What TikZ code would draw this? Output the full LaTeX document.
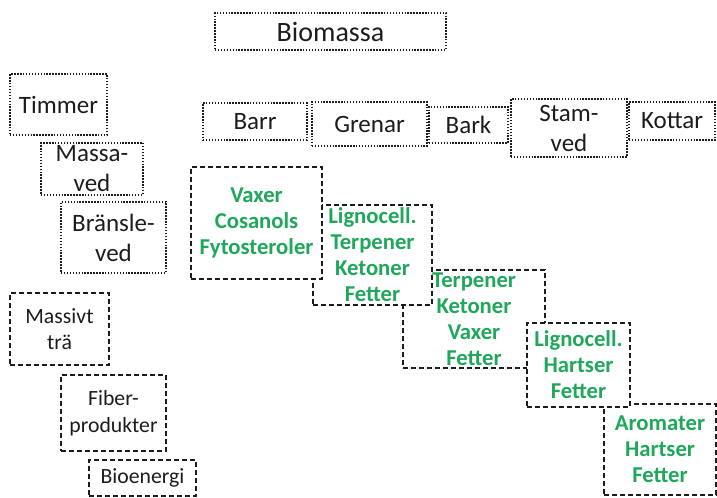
\documentclass[tikz,border=0pt]{standalone}
\usepackage{fontspec}
\setmainfont{Carlito}
\usepackage{tikz}
\usetikzlibrary{positioning}
\definecolor{InkGray}{HTML}{1C1C1C}
\definecolor{LeafGreen}{HTML}{1FA75B}

\tikzset{
  boxsize/.style 2 args={minimum width=#1*0.75pt, minimum height=#2*0.75pt},
  partbox/.style={draw=InkGray, line width=1.1pt, dash pattern=on 1.1pt off 1.1pt,
                  inner sep=0pt, align=center, text=InkGray,
                  font=\fontsize{18.75}{22.5}\selectfont},
  usebox/.style={partbox, dash pattern=on 3.75pt off 2.25pt,
                 font=\fontsize{16.3}{20}\selectfont},
  extractbox/.style={usebox, fill=white, text=LeafGreen,
                     font=\bfseries\fontsize{17}{19.5}\selectfont},
}

\begin{document}
\begin{tikzpicture}[x=0.75pt, y=-0.75pt]
\useasboundingbox (0,0) rectangle (717,497);

% tree and its parts
\node[partbox, boxsize={231}{37}, font=\fontsize{21}{25}\selectfont] (biomassa) at (330.5,31.5) {Biomassa};
\node[partbox, boxsize={104}{37}] (barr) at (255,121.5) {Barr};
\node[partbox, boxsize={115}{44}] (grenar) at (369.5,124) {Grenar};
\node[partbox, boxsize={79}{36}] (bark) at (468.5,125) {Bark};
\node[partbox, boxsize={116}{58}] (stamved) at (569,128) {Stam-\\ved};
\node[partbox, boxsize={86}{38}] (kottar) at (672,121) {Kottar};

% assortments
\node[partbox, boxsize={97}{61}] (timmer) at (58.5,104.5) {Timmer};
\node[partbox, boxsize={102}{52}] (massaved) at (92,169) {Massa-\\ved};
\node[partbox, boxsize={105}{71}] (bransleved) at (113.5,237.5) {Bränsle-\\ved};

% products
\node[usebox, boxsize={99}{72}] (massivt) at (59.5,329) {Massivt\\trä};
\node[usebox, boxsize={105}{76}] (fiber) at (113.5,413) {Fiber-\\produkter};
\node[usebox, boxsize={107}{36}] (bioenergi) at (142.5,478) {Bioenergi};

% extractives, back to front
\node[extractbox, boxsize={112}{91}] (aromater) at (660,449.5) {Aromater\\Hartser\\Fetter};
\node[extractbox, boxsize={142}{98}] (terpener) at (474,319) {Terpener\\Ketoner\\Vaxer\\Fetter};
\node[extractbox, boxsize={103}{84}] (lignoB) at (578.5,365) {Lignocell.\\Hartser\\Fetter};
\node[extractbox, boxsize={119}{100}] (lignoA) at (372.5,255) {Lignocell.\\Terpener\\Ketoner\\Fetter};
\node[extractbox, boxsize={131}{112}] (vaxer) at (256.5,223) {Vaxer\\Cosanols\\Fytosteroler};
\end{tikzpicture}
\end{document}
